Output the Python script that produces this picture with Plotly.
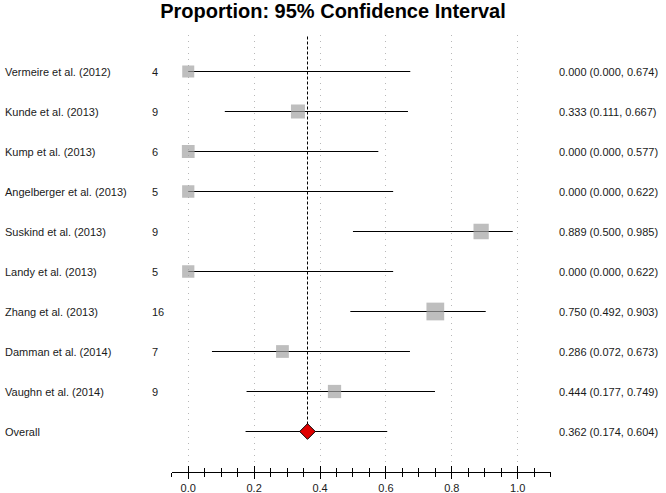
import plotly.graph_objects as go

studies = ["Vermeire et al. (2012)", "Kunde et al. (2013)", "Kump et al. (2013)",
           "Angelberger et al. (2013)", "Suskind et al. (2013)", "Landy et al. (2013)",
           "Zhang et al. (2013)", "Damman et al. (2014)", "Vaughn et al. (2014)"]
n_vals = [4, 9, 6, 5, 9, 5, 16, 7, 9]
est = [0.000, 0.333, 0.000, 0.000, 0.889, 0.000, 0.750, 0.286, 0.444]
lower = [0.000, 0.111, 0.000, 0.000, 0.500, 0.000, 0.492, 0.072, 0.177]
upper = [0.674, 0.667, 0.577, 0.622, 0.985, 0.622, 0.903, 0.673, 0.749]
weights = [9.6, 11.2, 10.2, 9.8, 12.2, 9.8, 14.2, 10.2, 10.6]

overall_label = "Overall"
overall_est = 0.362
overall_lower = 0.174
overall_upper = 0.604

tick_vals = [0.0, 0.2, 0.4, 0.6, 0.8, 1.0]

W, H = 666, 493
FONT = "Liberation Sans, Arial, sans-serif"
TXT = "#1a1a1a"

rows = list(range(1, len(studies) + 1))
overall_row = len(studies) + 1

fig = go.Figure()

# CI lines
lx, ly = [], []
for lo, hi, r in zip(lower, upper, rows):
    lx += [lo, hi, None]
    ly += [r, r, None]
lx += [overall_lower, overall_upper, None]
ly += [overall_row, overall_row, None]
fig.add_trace(go.Scatter(x=lx, y=ly, mode="lines", line=dict(color="black", width=1),
                         hoverinfo="skip", showlegend=False))

# pooled estimate dashed line
fig.add_trace(go.Scatter(x=[overall_est, overall_est], y=[0, overall_row], mode="lines",
                         line=dict(color="black", width=1, dash="3px,2px"),
                         hoverinfo="skip", showlegend=False))

# study squares
fig.add_trace(go.Scatter(x=est, y=rows, mode="markers",
                         marker=dict(symbol="square", color="#a2a2a2",
                                     size=[w * 1.25 for w in weights], line=dict(width=0)),
                         showlegend=False))

# overall diamond
fig.add_trace(go.Scatter(x=[overall_est], y=[overall_row], mode="markers",
                         marker=dict(symbol="diamond", color="#e00000", size=12,
                                     line=dict(color="black", width=1)),
                         showlegend=False))

# invisible trace for the inside-tick overlay axis
fig.add_trace(go.Scatter(x=[overall_est], y=[overall_row], xaxis="x2", mode="markers",
                         marker=dict(opacity=0), hoverinfo="skip", showlegend=False))

ann = []
def add_text(xp, row, text):
    ann.append(dict(x=xp, xref="paper", y=row, yref="y", text=text, showarrow=False,
                    xanchor="left", yanchor="middle", font=dict(family=FONT, size=11, color=TXT)))

add_text(3 / W, 0, "Study Name")
add_text(150 / W, 0, "N")
add_text(557 / W, 0, "Confidence Interval")
for s, n, e, lo, hi, r in zip(studies, n_vals, est, lower, upper, rows):
    add_text(3 / W, r, s)
    add_text(150 / W, r, str(n))
    add_text(557 / W, r, f"{e:.3f} ({lo:.3f}, {hi:.3f})")
add_text(3 / W, overall_row, overall_label)
add_text(557 / W, overall_row, f"{overall_est:.3f} ({overall_lower:.3f}, {overall_upper:.3f})")

dom = [171.7 / W, 550.7 / W]
xr = [-0.0502, 1.1002]

fig.update_layout(
    width=W, height=H,
    margin=dict(l=0, r=0, t=35, b=21),
    paper_bgcolor="white", plot_bgcolor="white",
    title=dict(text="<b>Proportion: 95% Confidence Interval</b>", x=0.5, xanchor="center",
               y=1 - 11 / H, yanchor="middle", yref="container",
               font=dict(family=FONT, size=20, color="black")),
    annotations=ann,
    xaxis=dict(domain=dom, range=xr, tickvals=tick_vals, tickformat=".1f",
               showline=True, linecolor="black", linewidth=1,
               ticks="outside", ticklen=6, tickcolor="black", tickwidth=1,
               minor=dict(dtick=0.05, tick0=0, ticks="outside", ticklen=4,
                          tickcolor="black", showgrid=False),
               showgrid=True, gridcolor="#b8b8b8", griddash="1px,5px", gridwidth=1,
               zeroline=False, tickfont=dict(family=FONT, size=11, color=TXT)),
    xaxis2=dict(domain=dom, range=xr, overlaying="x", anchor="y", side="bottom",
                tickvals=tick_vals, showticklabels=False, ticks="inside", ticklen=6,
                tickcolor="black", minor=dict(dtick=0.05, tick0=0, ticks="inside",
                                              ticklen=4, tickcolor="black"),
                showgrid=False, zeroline=False, showline=False),
    yaxis=dict(range=[11.0125, 0.0875], visible=False, showgrid=False, zeroline=False),
)

fig.write_html("out.html", config={"displayModeBar": False},
               post_script="document.body.style.margin='0';")
